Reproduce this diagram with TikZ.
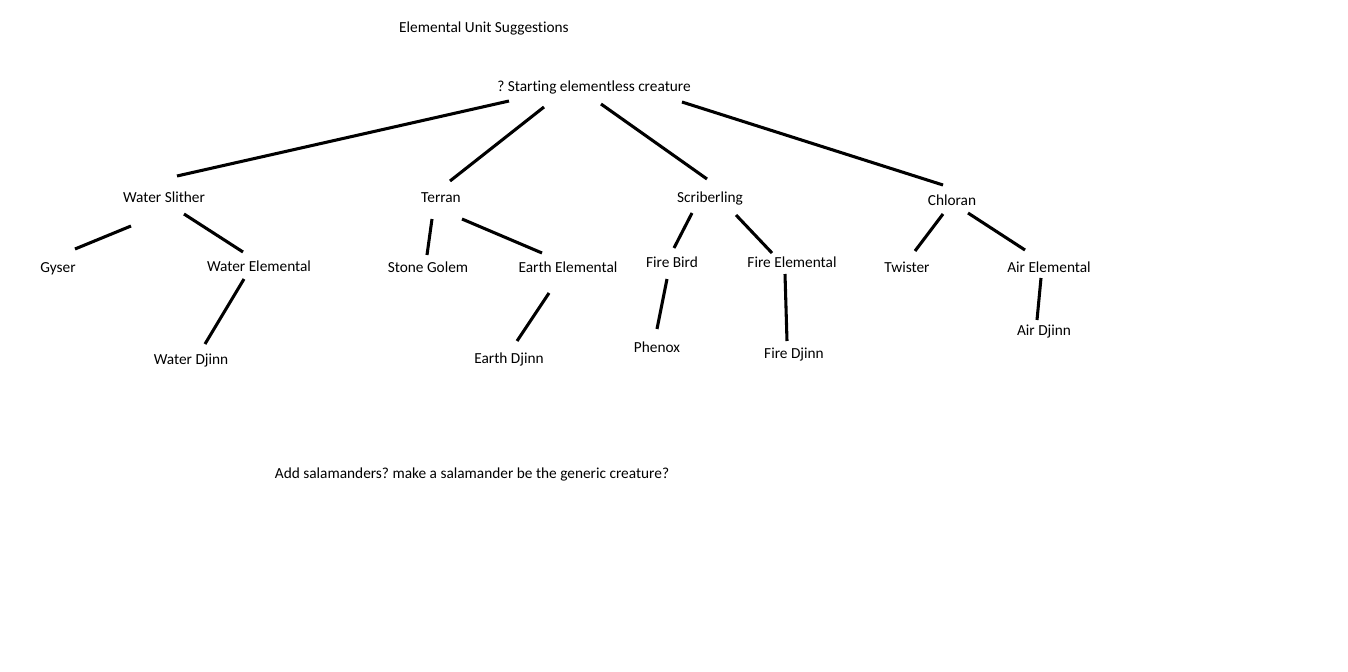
\documentclass[tikz,border=0pt]{standalone}
\usepackage{fontspec}
\setmainfont{Carlito}[Ligatures=NoCommon]
\frenchspacing
\tikzset{
    txt/.style={anchor=base, inner sep=0pt, font=\fontsize{11.5}{13}\selectfont},
    link/.style={line width=2.3pt},
}
\begin{document}
\begin{tikzpicture}[x=0.75pt, y=-0.75pt]
    \fill[white] (0,0) rectangle (1348,671);
    % titles
    \node[txt] (title) at (484, 32) {Elemental Unit Suggestions};
    \node[txt] (root)  at (594, 91) {? Starting elementless creature};
    \node[txt] (note)  at (472,478) {Add salamanders? make a salamander be the generic creature?};
    % first tier
    \node[txt] (ws)      at (164,202) {Water Slither};
    \node[txt] (terran)  at (441,202) {Terran};
    \node[txt] (scrib)   at (710,202) {Scriberling};
    \node[txt] (chloran) at (952,205) {Chloran};
    % second tier
    \node[txt] (gyser)   at (  58,272) {Gyser};
    \node[txt] (welem)   at ( 259,271) {Water Elemental};
    \node[txt] (golem)   at ( 428,272) {Stone Golem};
    \node[txt] (eelem)   at ( 568,272) {Earth Elemental};
    \node[txt] (fbird)   at ( 672,267) {Fire Bird};
    \node[txt] (felem)   at ( 792,267) {Fire Elemental};
    \node[txt] (twister) at ( 907,272) {Twister};
    \node[txt] (aelem)   at (1049,272) {Air Elemental};
    % third tier
    \node[txt] (wdjinn) at ( 191,364) {Water Djinn};
    \node[txt] (edjinn) at ( 509,363) {Earth Djinn};
    \node[txt] (phenox) at ( 657,352) {Phenox};
    \node[txt] (fdjinn) at ( 794,358) {Fire Djinn};
    \node[txt] (adjinn) at (1044,335) {Air Djinn};
    % links
    \draw[link] ([shift={(-85, 10)}]root.base)    -- ([shift={( 13,-26)}]ws.base);
    \draw[link] ([shift={(-50, 16)}]root.base)    -- ([shift={(  9,-21)}]terran.base);
    \draw[link] ([shift={(  7, 13)}]root.base)    -- ([shift={( -3,-23)}]scrib.base);
    \draw[link] ([shift={( 88, 11)}]root.base)    -- ([shift={( -9,-20)}]chloran.base);
    \draw[link] ([shift={(-33, 24)}]ws.base)      -- ([shift={( 17,-23)}]gyser.base);
    \draw[link] ([shift={( 20, 12)}]ws.base)      -- ([shift={(-16,-19)}]welem.base);
    \draw[link] ([shift={(-15,  8)}]welem.base)   -- ([shift={( 14,-20)}]wdjinn.base);
    \draw[link] ([shift={( -9, 17)}]terran.base)  -- ([shift={( -1,-17)}]golem.base);
    \draw[link] ([shift={( 21, 17)}]terran.base)  -- ([shift={(-26,-19)}]eelem.base);
    \draw[link] ([shift={(-19, 21)}]eelem.base)   -- ([shift={(  8,-22)}]edjinn.base);
    \draw[link] ([shift={(-18, 11)}]scrib.base)   -- ([shift={(  2,-19)}]fbird.base);
    \draw[link] ([shift={( 26, 13)}]scrib.base)   -- ([shift={(-20,-14)}]felem.base);
    \draw[link] ([shift={( -5, 12)}]fbird.base)   -- ([shift={(  0,-23)}]phenox.base);
    \draw[link] ([shift={( -7,  7)}]felem.base)   -- ([shift={( -7,-17)}]fdjinn.base);
    \draw[link] ([shift={( -9,  9)}]chloran.base) -- ([shift={(  8,-21)}]twister.base);
    \draw[link] ([shift={( 16,  8)}]chloran.base) -- ([shift={(-24,-22)}]aelem.base);
    \draw[link] ([shift={( -8,  6)}]aelem.base)   -- ([shift={( -7,-15)}]adjinn.base);
\end{tikzpicture}
\end{document}
